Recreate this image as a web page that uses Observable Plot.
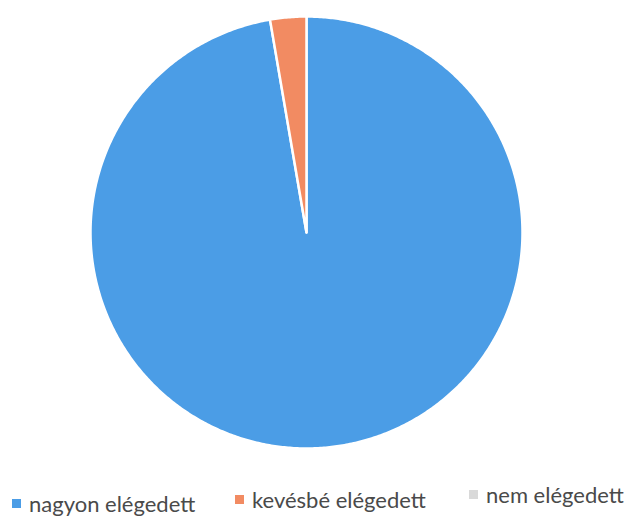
<!DOCTYPE html>
<html>
<head>
<meta charset="utf-8">
<script src="https://cdn.jsdelivr.net/npm/d3@7"></script>
<script src="https://cdn.jsdelivr.net/npm/@observablehq/plot@0.6"></script>
<style>
  body { margin: 0; background: #fff; width: 629px; height: 518px; overflow: hidden; position: relative; font-family: Lato, "Open Sans", sans-serif; }
  #chart { position: absolute; left: 0; top: 0; }
  .leg { position: absolute; display: flex; align-items: center; font-size: 22px; color: #4a4a4a; white-space: nowrap; }
  .sw { width: 9px; height: 9px; margin-right: 8px; }
</style>
</head>
<body>
<div id="chart"></div>
<div id="legend"></div>
<script>
const categories = ["nagyon elégedett", "kevésbé elégedett", "nem elégedett"];
const values = [36, 1, 0];
const colors = ["#4b9de6", "#f28b62", "#d9d9d9"];

const total = d3.sum(values);
const pts = [];
let cum = 0;
categories.forEach((c, i) => {
  const v = values[i];
  if (v <= 0) { return; }
  const a0 = cum / total * 2 * Math.PI;
  const a1 = (cum + v) / total * 2 * Math.PI;
  cum += v;
  pts.push({cat: c, x: 0, y: 0});
  const n = Math.max(2, Math.ceil((a1 - a0) / (Math.PI / 360)));
  for (let k = 0; k <= n; k++) {
    const a = a0 + (a1 - a0) * k / n;
    pts.push({cat: c, x: Math.sin(a), y: Math.cos(a)});
  }
});

const plot = Plot.plot({
  width: 629,
  height: 460,
  marginLeft: 90,
  marginRight: 107,
  marginTop: 16,
  marginBottom: 12,
  x: {domain: [-1, 1], axis: null},
  y: {domain: [-1, 1], axis: null},
  color: {domain: categories, range: colors},
  marks: [
    Plot.line(pts, {x: "x", y: "y", z: "cat", fill: "cat", stroke: "white", strokeWidth: 2.5, curve: "linear-closed", strokeLinejoin: "round"})
  ]
});
document.getElementById("chart").appendChild(plot);

const legendPos = [[12, 490], [235, 486], [469, 481]];
const leg = document.getElementById("legend");
categories.forEach((c, i) => {
  const d = document.createElement("div");
  d.className = "leg";
  d.style.left = legendPos[i][0] + "px";
  d.style.top = legendPos[i][1] + "px";
  d.innerHTML = `<span class="sw" style="background:${colors[i]}"></span><span>${c}</span>`;
  leg.appendChild(d);
});
</script>
</body>
</html>
